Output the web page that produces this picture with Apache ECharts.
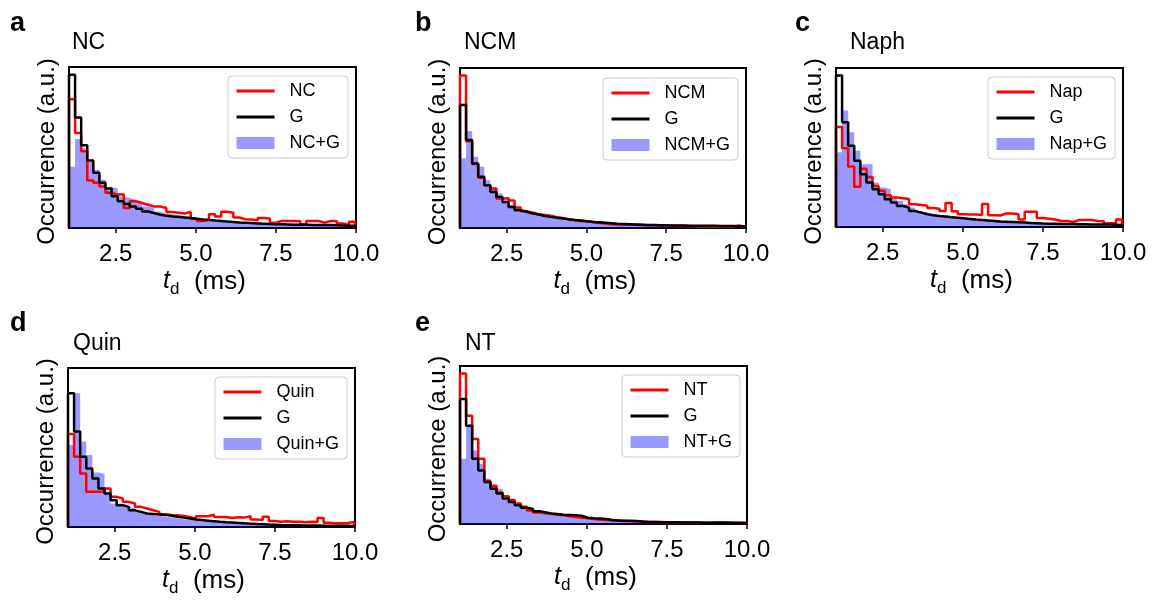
<!DOCTYPE html>
<html>
<head>
<meta charset="utf-8">
<script src="https://cdn.jsdelivr.net/npm/echarts@6/dist/echarts.min.js"></script>
<style>
html,body{margin:0;padding:0;background:#fff;}
#chart{width:1152px;height:604px;}
</style>
</head>
<body>
<div id="chart"></div>
<script>
// Histogram bins (ms)
const binStart = 1.04;
const binWidth = 0.19;
const xTicks = [2.5, 5.0, 7.5, 10.0];

// Panel a: NC
const ncRed = [84, 62, 50, 31, 29.5, 27, 23, 21.8, 21.8, 13, 17.4, 16.3, 15.2, 14, 14, 13, 10.5, 10, 9.5, 10.5, 6, 4.6, 5, 9, 7.5, 10.6, 10, 6.8, 5.7, 5.5, 5, 6.5, 6.2, 3.5, 4.6, 4.6, 4.6, 4.4, 2.4, 4.6, 4.6, 3.5, 4.6, 4.6, 3.0, 2.0, 4.0];
const ncG = [100, 72, 54, 44, 36, 29.5, 25.7, 20.7, 17.4, 15.6, 14.1, 12.5, 10.8, 9.7, 8.6, 8.0, 7.5, 7.2, 6.8, 6.5, 6.0, 5.6, 5.3, 4.9, 4.6, 4.2, 3.9, 3.6, 3.4, 3.2, 3.0, 2.8, 2.6, 2.5, 2.4, 2.3, 2.2, 2.2, 2.1, 2.0, 2.0, 1.9, 1.9, 1.8, 1.6, 1.5, 1.4];
const ncMix = [40, 58, 52, 43, 38, 31.5, 26.5, 26, 20.5, 19.5, 18.5, 16.3, 14.1, 13, 10.8, 9.5, 9, 8.5, 8, 7.2, 6.8, 6.3, 5.8, 5.3, 5, 4.6, 4.3, 4, 3.6, 3.3, 3.1, 2.9, 2.7, 2.5, 2.4, 2.2, 2.1, 2.0, 1.8, 1.8, 1.6, 1.5, 1.4, 1.3, 1.2, 1.1, 1.0];

// Panel b: NCM
const ncmRed = [100, 57, 42, 33, 28, 26, 19.4, 19.5, 18, 13.5, 11, 10, 9, 8.5, 8, 7, 6.5, 5.5, 5, 4.5, 4.4, 4.0, 3.2, 3.0, 2.4, 2.3, 2.2, 2.4, 2.2, 2.0, 1.8, 1.8, 1.6, 1.5, 1.4, 1.3, 1.3, 1.2, 1.1, 1.0, 1.0, 1.0, 1.0, 0.9, 0.9, 1.6, 0.8];
const ncmG = [80.8, 57.8, 42.4, 33.6, 28.1, 23.7, 20.4, 17.1, 13.8, 11.6, 10.6, 9.5, 8.8, 7.9, 7.3, 6.8, 6.3, 5.8, 5.3, 4.9, 4.4, 4.0, 3.7, 3.4, 3.1, 2.8, 2.6, 2.4, 2.3, 2.2, 2.0, 1.9, 1.8, 1.8, 1.7, 1.6, 1.6, 1.5, 1.5, 1.4, 1.4, 1.4, 1.3, 1.3, 1.3, 1.2, 1.2];
const ncmMix = [45.7, 63.7, 46.8, 40.2, 31.4, 26, 22.7, 18, 15.5, 13.5, 12, 10.6, 9.5, 8.7, 8, 7.3, 6.6, 6, 5.4, 4.9, 4.5, 4.1, 3.7, 3.4, 3.1, 2.8, 2.6, 2.4, 2.2, 2.0, 1.9, 1.8, 1.7, 1.6, 1.5, 1.4, 1.3, 1.3, 1.2, 1.1, 1.1, 1.0, 1.0, 1.0, 0.9, 0.9, 0.8];

// Panel c: Naph
const napRed = [66, 52, 40, 26.5, 38.5, 33, 27, 24, 21, 19.5, 19, 18.5, 15, 14.5, 14, 12.5, 12, 10.5, 15.8, 10.4, 8.5, 8.2, 8.2, 8.0, 15.2, 7.8, 7.6, 8.9, 8.9, 8.4, 5.0, 10, 10, 6, 5.5, 4.9, 4, 4, 3.3, 4.6, 4.6, 4.6, 4, 3.8, 2.4, 2.4, 4.9];
const napG = [100, 69.2, 53.7, 43.8, 34.9, 29.4, 25, 21.7, 18.3, 16.1, 13.9, 12.8, 10.6, 9.5, 8.4, 7.8, 7.3, 6.9, 6.5, 6.1, 5.7, 5.3, 4.9, 4.6, 4.3, 4.0, 3.7, 3.5, 3.3, 3.1, 2.9, 2.7, 2.5, 2.3, 2.2, 2.1, 2.0, 1.9, 1.9, 1.8, 1.8, 1.7, 1.7, 1.6, 1.6, 1.5, 1.4];
const napMix = [49.3, 76.9, 62.6, 50.4, 41.5, 41.5, 29.4, 26.1, 24.9, 19.5, 17.3, 15, 12.8, 10.6, 9.5, 8.5, 7.8, 7.2, 6.6, 6.0, 5.5, 5.0, 4.6, 4.2, 3.9, 3.6, 3.3, 3.0, 2.8, 2.6, 2.4, 2.2, 2.0, 1.9, 1.8, 1.7, 1.6, 1.5, 1.4, 1.3, 1.3, 1.2, 1.1, 1.1, 1.0, 1.0, 0.9];

// Panel d: Quin
const quinRed = [61.4, 46.4, 35.4, 23.2, 23.2, 23.2, 25.5, 19.9, 18.8, 16.6, 15.5, 13.3, 12.2, 11.1, 10, 8.5, 8, 7.8, 7.2, 6.6, 5.5, 7.1, 7.1, 8.1, 6.6, 6.6, 6.0, 6.4, 6.2, 7.1, 4.9, 4.6, 6.8, 4.0, 3.5, 3.8, 3.5, 3.5, 3.2, 3.5, 3.3, 5.9, 2.8, 2.4, 2.4, 2.6, 3.4];
const quinG = [88.4, 63, 46.4, 38.7, 32.1, 25.5, 22.1, 17.7, 14.4, 13.3, 11, 10, 8.9, 8.6, 8.3, 8, 7.4, 6.8, 6.2, 5.6, 5.0, 4.6, 4.2, 3.8, 3.4, 3.1, 2.9, 2.7, 2.4, 2.2, 2.0, 1.8, 1.6, 1.5, 1.3, 1.2, 1.2, 1.1, 1.0, 1.0, 1.0, 0.9, 0.9, 0.8, 0.8, 0.8, 0.7];
const quinMix = [54.2, 88.4, 56.4, 47.5, 36, 35, 23.2, 15.5, 15.5, 13.3, 12.2, 10, 8.9, 7.7, 7.2, 6.7, 6.2, 5.6, 5.2, 4.7, 4.3, 3.9, 3.6, 3.3, 3.0, 2.7, 2.5, 2.3, 2.1, 1.9, 1.7, 1.6, 1.5, 1.3, 1.2, 1.1, 1.0, 1.0, 0.9, 0.8, 0.8, 0.7, 0.7, 0.6, 0.6, 0.5, 0.5];

// Panel e: NT
const ntRed = [100, 72, 56.5, 43.3, 28.5, 25.5, 21, 18.5, 16, 13.6, 11.4, 9, 7.6, 7.2, 6.8, 6.2, 5.8, 5.2, 4.6, 4.2, 3.8, 3.3, 2.9, 2.6, 2.4, 2.2, 2.0, 1.8, 1.6, 1.5, 1.4, 1.3, 1.3, 1.2, 1.2, 1.1, 1.1, 1.0, 1.0, 1.0, 0.9, 1.1, 1.2, 1.0, 0.8, 0.7, 0.6];
const ntG = [83, 65.3, 43.3, 35.6, 27.9, 23.5, 20.2, 17, 14.7, 12.5, 10.8, 10, 8.5, 7.8, 7, 6.6, 6.2, 6.0, 5.8, 5.5, 4.2, 3.8, 3.6, 3.4, 2.6, 2.4, 2.2, 2.1, 2.0, 1.6, 1.4, 1.3, 1.2, 1.2, 1.1, 1.1, 1.0, 1.0, 1.0, 0.9, 0.9, 0.9, 0.9, 0.8, 0.8, 0.8, 0.7];
const ntMix = [43.3, 65.3, 48.8, 40, 30.1, 25.7, 23.5, 17.2, 14.7, 12.5, 10.3, 9.7, 8.1, 7.4, 6.8, 6.2, 5.7, 5.2, 4.8, 4.4, 4.0, 3.6, 3.3, 3.0, 2.7, 2.5, 2.3, 2.1, 1.9, 1.7, 1.6, 1.5, 1.4, 1.3, 1.2, 1.1, 1.0, 1.0, 0.9, 0.9, 0.8, 0.8, 0.7, 0.7, 0.6, 0.6, 0.5];

const panelLetters = ['a', 'b', 'c', 'd', 'e'];
const panelTitles = ['NC', 'NCM', 'Naph', 'Quin', 'NT'];
const redNames = ['NC', 'NCM', 'Nap', 'Quin', 'NT'];
const mixNames = ['NC+G', 'NCM+G', 'Nap+G', 'Quin+G', 'NT+G'];
const redData = [ncRed, ncmRed, napRed, quinRed, ntRed];
const gData = [ncG, ncmG, napG, quinG, ntG];
const mixData = [ncMix, ncmMix, napMix, quinMix, ntMix];

// layout (pixels)
const grids = [
  {left: 69, top: 67, width: 287, height: 161},
  {left: 460, top: 68, width: 286, height: 160},
  {left: 836, top: 68, width: 287, height: 159},
  {left: 68, top: 368, width: 287, height: 159},
  {left: 460, top: 366, width: 287, height: 158}
];
const legendPos = [[228, 76], [603, 78], [988, 77], [215, 377], [622, 375]];
const letterPos = [[10, 10], [415, 10], [795, 10], [10, 310], [415, 310]];
const titlePos = [[72, 31], [464, 31], [850, 31], [73, 332], [465, 332]];

const FONT = '"Liberation Sans", Arial, sans-serif';

function stepData(vals) {
  const d = [[binStart, 0]];
  vals.forEach((v, i) => d.push([binStart + i * binWidth, v]));
  const end = binStart + vals.length * binWidth;
  d.push([end, vals[vals.length - 1]]);
  d.push([end, 0]);
  return d;
}

const option = {
  animation: false,
  backgroundColor: '#fff',
  textStyle: {fontFamily: FONT, color: '#000'},
  title: [],
  legend: [],
  grid: [],
  xAxis: [],
  yAxis: [],
  series: []
};

for (let p = 0; p < 5; p++) {
  option.title.push({
    text: panelLetters[p], left: letterPos[p][0], top: letterPos[p][1], padding: 0,
    textStyle: {fontFamily: FONT, fontSize: 27, fontWeight: 'bold', color: '#000'}
  });
  option.title.push({
    text: panelTitles[p], left: titlePos[p][0], top: titlePos[p][1], padding: 0,
    textStyle: {fontFamily: FONT, fontSize: 23, fontWeight: 'normal', color: '#000'}
  });
  option.grid.push(Object.assign({show: true, borderColor: '#000', borderWidth: 2, backgroundColor: 'transparent', containLabel: false}, grids[p]));
  option.xAxis.push({
    type: 'value', gridIndex: p, min: binStart, max: 10,
    splitLine: {show: false},
    axisLine: {show: false},
    axisTick: {show: true, inside: false, length: 5, lineStyle: {color: '#000', width: 1.5}, customValues: xTicks},
    axisLabel: {show: true, margin: 14, fontSize: 24, color: '#000', fontFamily: FONT, customValues: xTicks,
      formatter: v => Number(v).toFixed(1)},
    name: '{i|t}{s|d}{n|  (ms)}',
    nameLocation: 'middle',
    nameGap: 41,
    nameTextStyle: {
      padding: [0, 16, 0, 0],
      rich: {
        i: {fontFamily: FONT, fontSize: 25, fontStyle: 'italic', color: '#000', lineHeight: 25, verticalAlign: 'top'},
        s: {fontFamily: FONT, fontSize: 17, color: '#000', lineHeight: 29, verticalAlign: 'bottom'},
        n: {fontFamily: FONT, fontSize: 26, color: '#000', lineHeight: 25, verticalAlign: 'top'}
      }
    }
  });
  option.yAxis.push({
    type: 'value', gridIndex: p, min: 0, max: 105,
    splitLine: {show: false}, axisLine: {show: false}, axisTick: {show: false}, axisLabel: {show: false},
    name: 'Occurrence (a.u.)', nameLocation: 'middle', nameGap: 10,
    nameTextStyle: {fontFamily: FONT, fontSize: 24, color: '#000', padding: [0, 8, 0, 0]}
  });
  option.legend.push({
    orient: 'vertical', left: legendPos[p][0], top: legendPos[p][1],
    data: [
      {name: redNames[p], itemStyle: {opacity: 0}},
      {name: 'G', itemStyle: {opacity: 0}},
      {name: mixNames[p], icon: 'rect'}
    ],
    itemWidth: 38, itemHeight: 12, itemGap: 8,
    padding: [6, 8, 6, 7],
    backgroundColor: 'rgba(255,255,255,0.8)', borderColor: '#cccccc', borderWidth: 1, borderRadius: 4,
    lineStyle: {width: 3},
    textStyle: {fontFamily: FONT, fontSize: 18, color: '#000'},
    formatter: name => '  ' + name,
    selectedMode: false
  });
  option.series.push({
    name: mixNames[p], type: 'line', step: 'end', xAxisIndex: p, yAxisIndex: p,
    data: stepData(mixData[p]), symbol: 'none', showSymbol: false,
    color: 'rgba(0,0,255,0.4)',
    itemStyle: {color: 'rgba(0,0,255,0.4)'},
    lineStyle: {width: 0, color: 'rgba(0,0,255,0.4)'},
    areaStyle: {color: 'rgba(0,0,255,0.4)', opacity: 1},
    z: 1
  });
  option.series.push({
    name: redNames[p], type: 'line', step: 'end', xAxisIndex: p, yAxisIndex: p,
    data: stepData(redData[p]), symbol: 'none', showSymbol: false,
    color: '#ff0000', lineStyle: {width: 2.5, color: '#ff0000'}, z: 2
  });
  option.series.push({
    name: 'G', type: 'line', step: 'end', xAxisIndex: p, yAxisIndex: p,
    data: stepData(gData[p]), symbol: 'none', showSymbol: false,
    color: '#000000', lineStyle: {width: 2.5, color: '#000000'}, z: 3
  });
}

const chart = echarts.init(document.getElementById('chart'), null, {renderer: 'canvas'});
chart.setOption(option);
</script>
</body>
</html>
